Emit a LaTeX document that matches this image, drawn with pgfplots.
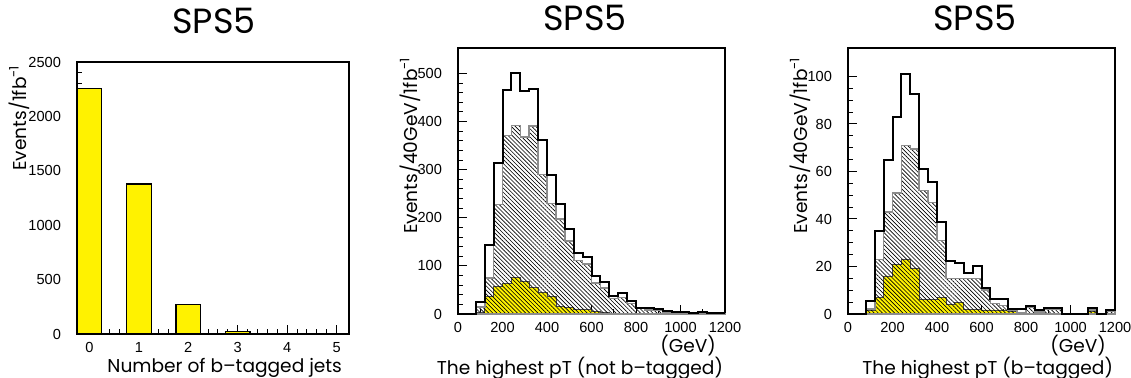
\documentclass[border=0pt]{standalone}
\usepackage{pgfplots}
\pgfplotsset{compat=1.18}
\usetikzlibrary{patterns.meta}
\usepackage{fontspec}
\setmainfont{Poppins}
\newfontfamily\tickfont{Liberation Sans}

\pgfplotsset{
  sps/.style={
    scale only axis, anchor=south west, clip=false,
    tick align=inside, tick pos=left,
    axis line style={line width=0.7pt},
    every tick/.style={black, line width=0.5pt},
    major tick length=4.5pt, minor tick length=2.5pt,
    /pgf/number format/assume math mode=true,
    /pgf/number format/1000 sep={},
    ticklabel style={font=\tickfont\fontsize{7.3}{8}\selectfont},
    xticklabel style={yshift=-0.5pt},
    yticklabel style={xshift=-4.5pt},
    title style={font=\fontsize{17.5}{19}\selectfont, anchor=center},
    label style={font=\fontsize{9.3}{11}\selectfont},
  },
  yel/.style={const plot, fill=yellow, draw=black!70, line width=0.4pt},
  hat/.style={const plot, draw=black!45, line width=0.8pt,
    pattern={Lines[angle=-45,distance=1.45pt,line width=0.32pt]}, pattern color=black},
  tot/.style={const plot, draw=black, line width=1pt},
}

\begin{document}
\begin{tikzpicture}
\useasboundingbox (0,0) rectangle (565.5pt,189pt);

% ---------------- Panel 1 ----------------
\begin{axis}[sps,
  at={(38.5pt,22pt)}, width=136pt, height=136pt,
  xmin=-0.25, xmax=5.25, ymin=0, ymax=2500,
  xtick={0,1,2,3,4,5}, ytick={0,500,1000,1500,2000,2500},
  minor x tick num=4, minor y tick num=4,
  title={SPS5}, title style={at={(0.504,1)}, yshift=14.5pt},
  ylabel={Events/1fb\textsuperscript{-1}},
  ylabel style={at={(-0.213,1.015)}, anchor=east},
  xlabel={Number of b\textendash tagged jets},
  xlabel style={at={(1,-0.143)}, anchor=base east},
]
\addplot[ybar, bar width=0.5, bar shift=0pt, fill=yellow, draw=black, line width=0.6pt]
  coordinates {(0,2255) (1,1378) (2,268) (3,25) (4,0) (5,0)};
\end{axis}

% ---------------- Panel 2 ----------------
\begin{axis}[sps,
  at={(229pt,32pt)}, width=133.5pt, height=133pt,
  xmin=0, xmax=1200, ymin=0, ymax=553,
  xtick={0,200,...,1200}, ytick={0,100,...,500},
  minor x tick num=1, minor y tick num=4,
  title={SPS5}, title style={at={(0.476,1)}, yshift=9pt},
  ylabel={Events/40GeV/1fb\textsuperscript{-1}},
  ylabel style={at={(-0.18,0.9925)}, anchor=east},
  xlabel={The highest pT (not b\textendash tagged)},
  xlabel style={at={(1.019,-0.2256)}, anchor=base east},
]
\addplot[yel] coordinates {
 (0,0)(40,0)(80,3)(120,37)(160,57)(200,63)(240,76)(280,68)(320,55)(360,44)
 (400,37)(440,15)(480,13)(520,10)(560,9)(600,5)(640,3)(680,2)(720,2)(760,1)
 (800,0.5)(840,0.5)(880,0)(920,0)(960,0)(1000,0)(1040,0)(1080,0)(1120,0)(1160,0)(1200,0)} \closedcycle;
\addplot[hat] coordinates {
 (0,0)(40,0)(80,14)(120,75)(160,228)(200,371)(240,392)(280,368)(320,391)(360,290)
 (400,230)(440,197)(480,152)(520,111)(560,104)(600,64)(640,54)(680,32)(720,34)(760,22)
 (800,12)(840,8)(880,7)(920,4)(960,2)(1000,2)(1040,1)(1080,3)(1120,1)(1160,1)(1200,1)} \closedcycle;
\addplot[tot] coordinates {
 (0,0)(40,0)(80,24)(120,143)(160,313)(200,465)(240,500)(280,463)(320,467)(360,361)
 (400,288)(440,229)(480,176)(520,126)(560,118)(600,79)(640,66)(680,37)(720,43)(760,27)
 (800,13)(840,12)(880,10)(920,6)(960,4)(1000,4)(1040,3)(1080,4)(1120,3)(1160,2)(1200,2)};
\node[font=\fontsize{9.3}{11}\selectfont, anchor=base east] at (rel axis cs:0.9925,-0.1455) {(GeV)};
\end{axis}

% ---------------- Panel 3 ----------------
\begin{axis}[sps,
  at={(424pt,32pt)}, width=133.5pt, height=133pt,
  xmin=0, xmax=1200, ymin=0, ymax=112,
  xtick={0,200,...,1200}, ytick={0,20,...,100},
  minor x tick num=1, minor y tick num=3,
  title={SPS5}, title style={at={(0.476,1)}, yshift=9pt},
  ylabel={Events/40GeV/1fb\textsuperscript{-1}},
  ylabel style={at={(-0.18,0.9925)}, anchor=east},
  xlabel={The highest pT (b\textendash tagged)},
  xlabel style={at={(1.019,-0.2256)}, anchor=base east},
]
\addplot[yel] coordinates {
 (0,0)(40,0)(80,1.7)(120,7)(160,16)(200,21)(240,23)(280,19)(320,6.2)(360,6.2)
 (400,7)(440,4.2)(480,4.8)(520,2)(560,2)(600,1.7)(640,1.7)(680,1.7)(720,1.2)(760,0)
 (800,0)(840,0)(880,0)(920,0)(960,0)(1000,0)(1040,0)(1080,1.2)(1120,0)(1160,0)(1200,0)} \closedcycle;
\addplot[hat] coordinates {
 (0,0)(40,0)(80,2.2)(120,23)(160,43)(200,51)(240,71)(280,69.5)(320,52)(360,47)
 (400,31)(440,15)(480,15)(520,15)(560,15)(600,10)(640,4.5)(680,3.5)(720,1.7)(760,0.5)
 (800,2.8)(840,0.8)(880,2.1)(920,2.1)(960,0)(1000,0)(1040,0)(1080,1.7)(1120,0)(1160,1)(1200,1)} \closedcycle;
\addplot[tot] coordinates {
 (0,0)(40,0)(80,5.4)(120,35)(160,65)(200,83)(240,101)(280,92.5)(320,61.2)(360,55.7)
 (400,38.9)(440,22.4)(480,21.3)(520,17.1)(560,20)(600,10.8)(640,6.5)(680,6.3)(720,2.3)(760,2.3)
 (800,3.4)(840,1.7)(880,2.4)(920,2.4)(960,0)(1000,0)(1040,0)(1080,2.4)(1120,0)(1160,1.7)(1200,1.7)};
\node[font=\fontsize{9.3}{11}\selectfont, anchor=base east] at (rel axis cs:0.9925,-0.1455) {(GeV)};
\end{axis}
\end{tikzpicture}
\end{document}
